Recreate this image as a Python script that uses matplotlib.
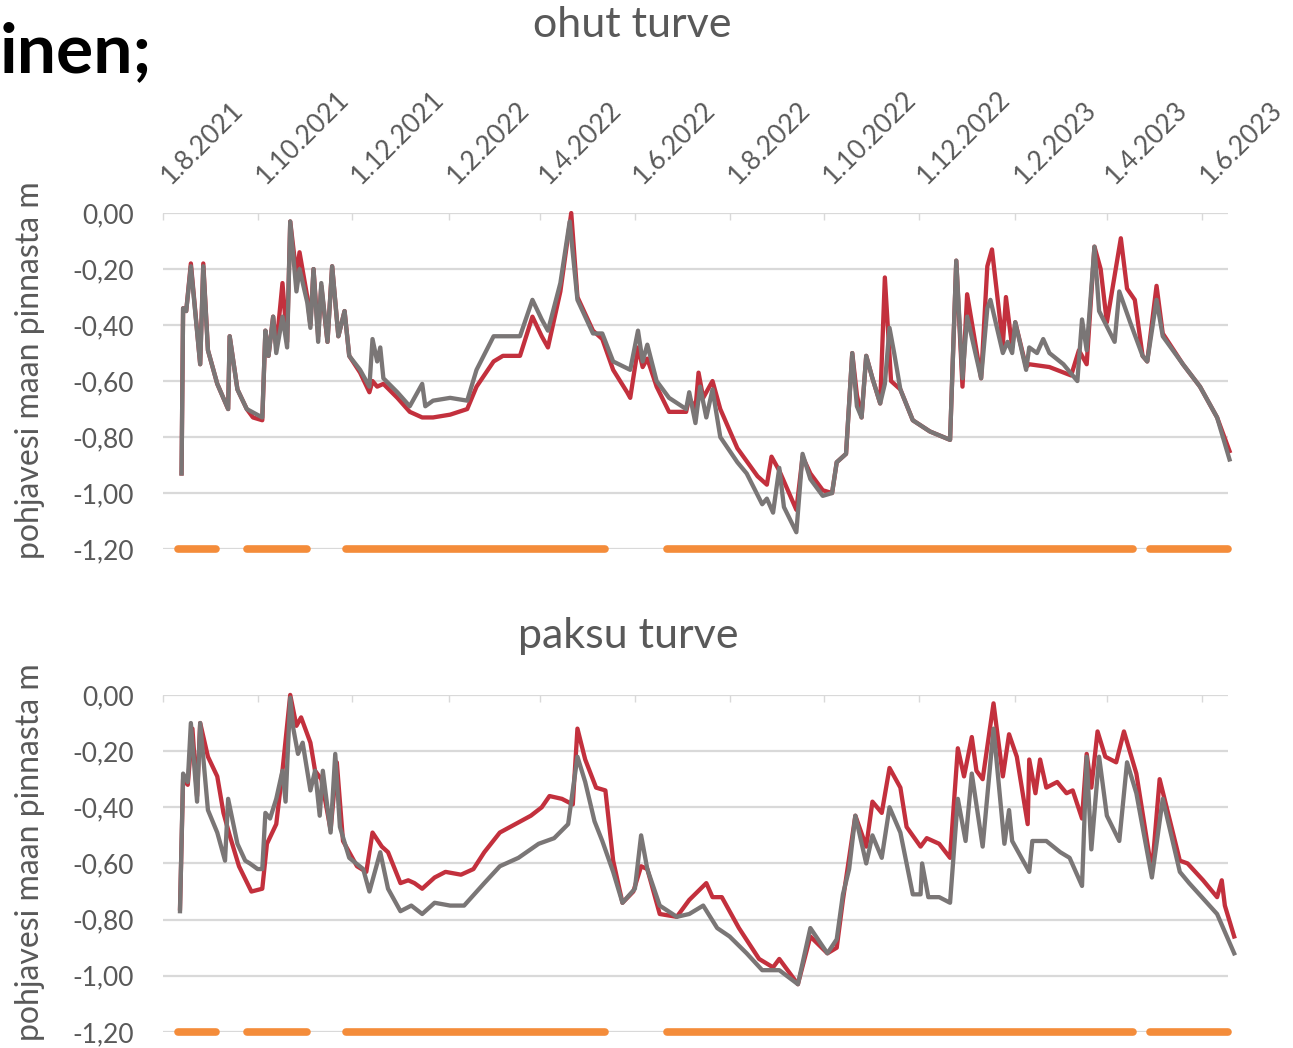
import numpy as np
import matplotlib
matplotlib.use('Agg')
import matplotlib.pyplot as plt
import matplotlib.dates as mdates
import matplotlib.transforms as mtransforms

plt.rcParams['font.family'] = ['Lato', 'DejaVu Sans']

# day numbers counted from 1.8.2021
START = np.datetime64('2021-08-01')

# ohut turve
ohut_grey_days = [12, 13, 15, 18, 24, 26, 29, 35, 42, 43, 48, 54, 64, 66, 68, 71, 73, 77, 80, 82,
                  86, 88, 93, 95, 97, 100, 102, 106, 109, 113, 117, 120, 127, 133, 135, 138, 140, 142, 151, 159,
                  167, 169, 174, 185, 196, 202, 213, 219, 230, 238, 244, 248, 256, 262, 267, 277, 283, 290, 301, 306,
                  309, 312, 318, 326, 337, 339, 343, 346, 350, 354, 359, 370, 376, 386, 389, 393, 397, 400, 408, 412,
                  417, 425, 431, 434, 440, 444, 447, 450, 453, 457, 462, 465, 468, 471, 475, 483, 494, 507, 511, 515,
                  518, 527, 531, 533, 541, 544, 547, 549, 556, 558, 563, 567, 571, 580, 589, 592, 595, 600, 603, 613,
                  616, 623, 631, 634, 640, 644, 657, 668, 679, 687]
ohut_grey = [-0.93, -0.34, -0.35, -0.19, -0.54, -0.19, -0.49, -0.61, -0.70, -0.44,
             -0.63, -0.70, -0.73, -0.42, -0.51, -0.37, -0.50, -0.37, -0.48, -0.03,
             -0.28, -0.20, -0.32, -0.41, -0.20, -0.46, -0.25, -0.46, -0.19, -0.44,
             -0.35, -0.51, -0.56, -0.62, -0.45, -0.53, -0.48, -0.59, -0.64, -0.69,
             -0.61, -0.69, -0.67, -0.66, -0.67, -0.56, -0.44, -0.44, -0.44, -0.31,
             -0.38, -0.42, -0.25, -0.03, -0.31, -0.43, -0.43, -0.53, -0.56, -0.42,
             -0.53, -0.47, -0.60, -0.66, -0.70, -0.64, -0.75, -0.62, -0.73, -0.63,
             -0.80, -0.89, -0.93, -1.04, -1.02, -1.07, -0.91, -1.05, -1.14, -0.86,
             -0.95, -1.01, -1.00, -0.89, -0.86, -0.50, -0.69, -0.73, -0.51, -0.59,
             -0.68, -0.61, -0.41, -0.50, -0.63, -0.74, -0.78, -0.81, -0.17, -0.59,
             -0.37, -0.59, -0.34, -0.31, -0.50, -0.46, -0.50, -0.39, -0.56, -0.48,
             -0.50, -0.45, -0.50, -0.54, -0.60, -0.38, -0.49, -0.12, -0.35, -0.46,
             -0.28, -0.39, -0.51, -0.53, -0.31, -0.44, -0.54, -0.62, -0.73, -0.88]

ohut_red_days = [12, 13, 15, 18, 24, 26, 29, 35, 42, 43, 48, 54, 58, 64, 66, 68, 71, 73, 77, 80,
                 82, 86, 88, 93, 95, 97, 100, 102, 106, 109, 113, 117, 120, 127, 133, 135, 138, 142, 151, 159,
                 167, 174, 185, 196, 202, 213, 219, 230, 238, 244, 248, 256, 263, 267, 277, 283, 290, 299, 301, 306,
                 309, 312, 318, 326, 337, 339, 343, 345, 348, 354, 359, 370, 383, 389, 392, 397, 408, 412, 417, 425,
                 431, 434, 440, 444, 447, 450, 453, 457, 462, 465, 469, 475, 483, 494, 507, 511, 515, 518, 527, 531,
                 534, 541, 543, 547, 549, 556, 558, 571, 585, 590, 595, 600, 604, 608, 617, 621, 626, 631, 634, 640,
                 644, 657, 668, 679, 687]
ohut_red = [-0.93, -0.34, -0.35, -0.18, -0.54, -0.18, -0.49, -0.61, -0.70, -0.44,
            -0.63, -0.70, -0.73, -0.74, -0.42, -0.51, -0.37, -0.48, -0.25, -0.46,
            -0.03, -0.22, -0.14, -0.30, -0.40, -0.20, -0.44, -0.26, -0.46, -0.19,
            -0.44, -0.35, -0.51, -0.57, -0.64, -0.60, -0.62, -0.61, -0.66, -0.71,
            -0.73, -0.73, -0.72, -0.70, -0.62, -0.53, -0.51, -0.51, -0.37, -0.44,
            -0.48, -0.28, 0.00, -0.30, -0.42, -0.45, -0.56, -0.64, -0.66, -0.48,
            -0.55, -0.52, -0.62, -0.71, -0.71, -0.66, -0.70, -0.57, -0.66, -0.60,
            -0.70, -0.84, -0.94, -0.97, -0.87, -0.92, -1.06, -0.87, -0.93, -0.99,
            -1.00, -0.89, -0.86, -0.50, -0.65, -0.73, -0.51, -0.59, -0.68, -0.23,
            -0.60, -0.63, -0.74, -0.78, -0.81, -0.17, -0.62, -0.29, -0.59, -0.19,
            -0.13, -0.47, -0.30, -0.48, -0.39, -0.55, -0.54, -0.55, -0.58, -0.49,
            -0.54, -0.12, -0.20, -0.39, -0.09, -0.27, -0.31, -0.51, -0.53, -0.26,
            -0.43, -0.54, -0.62, -0.73, -0.85]

# paksu turve
paksu_grey_days = [11, 13, 16, 18, 22, 24, 29, 35, 40, 42, 48, 53, 56, 61, 64, 66, 69, 73, 77, 79,
                   82, 84, 87, 90, 95, 98, 101, 103, 108, 111, 114, 120, 129, 133, 137, 140, 145, 153, 160, 167,
                   175, 185, 194, 207, 217, 229, 242, 252, 261, 267, 272, 278, 283, 290, 296, 304, 308, 312, 320, 331,
                   339, 348, 357, 365, 376, 386, 397, 409, 417, 428, 434, 438, 442, 446, 453, 457, 463, 468, 475, 483,
                   488, 489, 493, 500, 507, 512, 517, 521, 528, 535, 542, 545, 547, 558, 560, 569, 578, 584, 592, 595,
                   598, 603, 608, 616, 621, 627, 637, 644, 655, 661, 679, 690]
paksu_grey = [-0.77, -0.28, -0.31, -0.10, -0.38, -0.10, -0.41, -0.49, -0.59, -0.37,
              -0.53, -0.59, -0.60, -0.62, -0.62, -0.42, -0.44, -0.37, -0.27, -0.38,
              -0.01, -0.12, -0.21, -0.17, -0.34, -0.27, -0.43, -0.27, -0.49, -0.21,
              -0.47, -0.58, -0.62, -0.70, -0.62, -0.56, -0.69, -0.77, -0.75, -0.78,
              -0.74, -0.75, -0.75, -0.67, -0.61, -0.58, -0.53, -0.51, -0.46, -0.22,
              -0.31, -0.45, -0.52, -0.63, -0.74, -0.69, -0.50, -0.62, -0.75, -0.79,
              -0.78, -0.75, -0.83, -0.86, -0.92, -0.98, -0.98, -1.03, -0.83, -0.92,
              -0.87, -0.71, -0.62, -0.43, -0.60, -0.50, -0.58, -0.40, -0.49, -0.71,
              -0.71, -0.60, -0.72, -0.72, -0.74, -0.37, -0.52, -0.28, -0.54, -0.12,
              -0.53, -0.41, -0.52, -0.63, -0.52, -0.52, -0.56, -0.58, -0.68, -0.22,
              -0.55, -0.22, -0.43, -0.52, -0.24, -0.35, -0.65, -0.37, -0.63, -0.67,
              -0.78, -0.92]

paksu_red_days = [11, 13, 16, 19, 22, 24, 29, 35, 39, 43, 49, 57, 64, 67, 73, 77, 82, 86, 89, 95,
                  98, 102, 108, 112, 116, 125, 131, 135, 141, 145, 153, 158, 162, 167, 175, 182, 192, 200, 207, 217,
                  227, 237, 244, 249, 257, 264, 267, 272, 279, 285, 290, 296, 303, 308, 312, 320, 331, 339, 350, 354,
                  360, 371, 384, 393, 397, 409, 417, 428, 434, 438, 446, 453, 457, 463, 468, 475, 479, 488, 492, 500,
                  507, 512, 516, 521, 524, 528, 535, 541, 545, 550, 557, 558, 562, 565, 569, 576, 582, 586, 592, 595,
                  598, 602, 607, 614, 619, 627, 637, 642, 655, 660, 670, 679, 682, 684, 690]
paksu_red = [-0.76, -0.30, -0.32, -0.12, -0.36, -0.10, -0.22, -0.29, -0.42, -0.50,
             -0.61, -0.70, -0.69, -0.53, -0.46, -0.27, 0.00, -0.11, -0.08, -0.17,
             -0.27, -0.30, -0.48, -0.24, -0.52, -0.61, -0.63, -0.49, -0.54, -0.56,
             -0.67, -0.66, -0.67, -0.69, -0.65, -0.63, -0.64, -0.62, -0.56, -0.49,
             -0.46, -0.43, -0.40, -0.36, -0.37, -0.39, -0.12, -0.23, -0.33, -0.34,
             -0.59, -0.74, -0.70, -0.61, -0.62, -0.78, -0.79, -0.73, -0.67, -0.72,
             -0.72, -0.83, -0.94, -0.97, -0.94, -1.03, -0.86, -0.92, -0.90, -0.73,
             -0.43, -0.54, -0.38, -0.42, -0.26, -0.33, -0.47, -0.54, -0.51, -0.53,
             -0.58, -0.19, -0.29, -0.15, -0.27, -0.30, -0.03, -0.29, -0.14, -0.22,
             -0.46, -0.23, -0.35, -0.23, -0.33, -0.31, -0.35, -0.34, -0.44, -0.21,
             -0.33, -0.13, -0.22, -0.24, -0.13, -0.28, -0.63, -0.30, -0.59, -0.60,
             -0.66, -0.72, -0.66, -0.75, -0.86]

# periods marked on the bottom line (start day, end day)
period_start = [10, 54, 118, 325, 636]
period_end = [34, 93, 285, 625, 686]

RED = '#c3303d'
GREY = '#7a7676'
ORANGE = '#f48c3a'
GRIDC = '#d9d9d9'
TXT = '#595959'


def to_dates(days):
    return START + np.array(days).astype('timedelta64[D]')


def date_label(x, pos):
    d = mdates.num2date(x)
    return '%d.%d.%d' % (d.day, d.month, d.year)


def DrawPanel(fig, ax, red_days, red, grey_days, grey, show_dates):
    ax.plot(to_dates(red_days), red, color=RED, lw=3.1, clip_on=False, zorder=3)
    ax.plot(to_dates(grey_days), grey, color=GREY, lw=3.1, clip_on=False, zorder=4)
    for s, e in zip(period_start, period_end):
        ax.plot(to_dates([s, e]), [-1.2, -1.2], color=ORANGE, lw=5.5,
                solid_capstyle='round', clip_on=False, zorder=5)

    ax.set_xlim(START, START + np.timedelta64(686, 'D'))
    ax.set_ylim(-1.2, 0.0)
    yt = np.round(np.arange(-1.2, 0.01, 0.2), 2)
    ax.set_yticks(yt)
    ax.set_yticklabels([('%.2f' % abs(v) if v == 0 else '%.2f' % v).replace('.', ',') for v in yt])
    ax.yaxis.grid(True, color=GRIDC, lw=1.6)
    ax.set_axisbelow(True)
    for sp in ax.spines.values():
        sp.set_visible(False)
    ax.tick_params(axis='y', length=0, pad=21, labelsize=19, labelcolor=TXT)

    ax.xaxis.tick_top()
    ax.xaxis.set_major_locator(mdates.MonthLocator(bymonth=[2, 4, 6, 8, 10, 12]))
    ax.xaxis.set_major_formatter(plt.FuncFormatter(date_label))
    ax.tick_params(axis='x', direction='in', length=5, width=1, color=GRIDC,
                   pad=20, labelsize=19, labelcolor=TXT, labeltop=show_dates)
    if show_dates:
        # nudge the slanted labels a little to the right of their ticks
        shift = mtransforms.ScaledTranslation(6 / 72, 0, fig.dpi_scale_trans)
        for lab in ax.get_xticklabels():
            lab.set_rotation(45)
            lab.set_rotation_mode('anchor')
            lab.set_ha('left')
            lab.set_va('baseline')
            lab.set_transform(lab.get_transform() + shift)


fig = plt.figure(figsize=(12.93, 10.48), dpi=100)
ax1 = fig.add_axes([0.126, 0.4761, 0.8237, 0.3206])
ax2 = fig.add_axes([0.126, 0.0153, 0.8237, 0.3216])

DrawPanel(fig, ax1, ohut_red_days, ohut_red, ohut_grey_days, ohut_grey, True)
DrawPanel(fig, ax2, paksu_red_days, paksu_red, paksu_grey_days, paksu_grey, False)

fig.text(0.489, 0.976, 'ohut turve', ha='center', va='center', fontsize=31, color=TXT)
fig.text(0.486, 0.393, 'paksu turve', ha='center', va='center', fontsize=31, color=TXT)
fig.text(0.023, 0.647, 'pohjavesi maan pinnasta m', rotation=90, ha='center', va='center',
         fontsize=23, color=TXT)
fig.text(0.023, 0.187, 'pohjavesi maan pinnasta m', rotation=90, ha='center', va='center',
         fontsize=23, color=TXT)
fig.text(0.1176, 0.931, 'inen;', ha='right', va='baseline', fontsize=50,
         fontweight='bold', color='black')

fig.savefig('out.png', dpi=100)
